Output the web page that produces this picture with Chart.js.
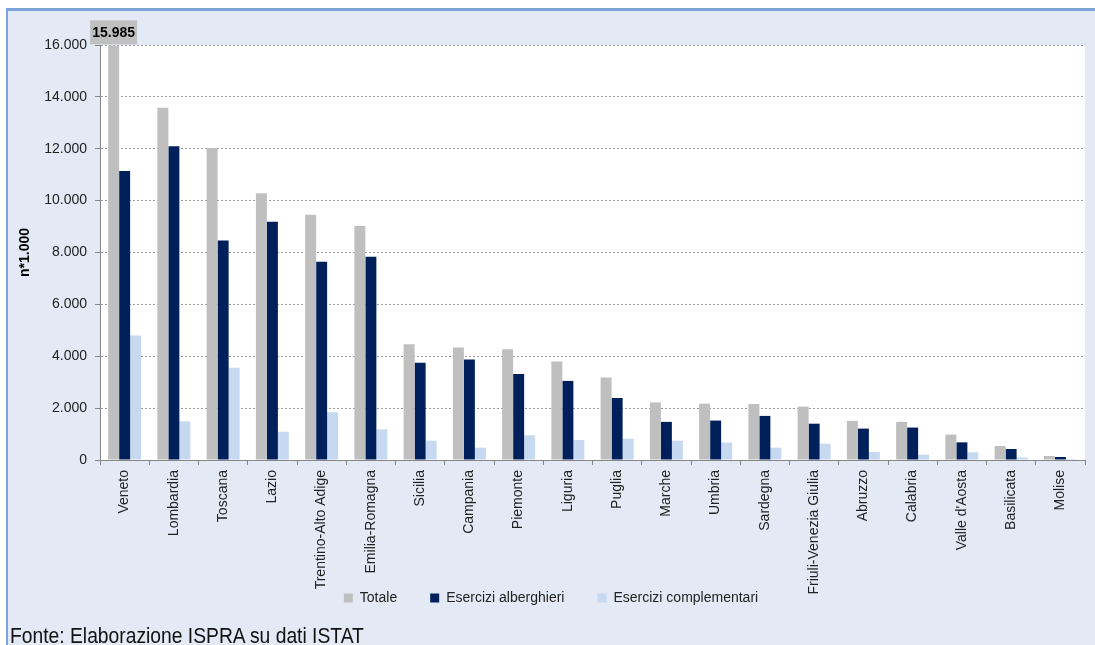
<!DOCTYPE html>
<html>
<head>
<meta charset="utf-8">
<script src="https://cdn.jsdelivr.net/npm/chart.js@4/dist/chart.umd.min.js"></script>
<style>
  html, body { margin: 0; padding: 0; background: #fff; }
  #wrap { position: relative; width: 1095px; height: 645px; overflow: hidden; }
  #frame {
    position: absolute; left: 6px; top: 8px; width: 1100px; height: 650px;
    background: #e3eaf5; border-left: 2px solid #7ba3d9; border-top: 3px solid #7ba3d9;
  }
  #c { position: absolute; left: 0; top: 0; }
  #fonte {
    position: absolute; left: 10px; top: 623px; white-space: nowrap;
    font-family: "Liberation Sans", Arial, sans-serif; font-size: 22px; color: #111;
    transform: scaleX(0.876); transform-origin: left top;
  }
</style>
</head>
<body>
<div id="wrap">
  <div id="frame"></div>
  <canvas id="c" width="1095" height="645"></canvas>
  <div id="fonte">Fonte: Elaborazione ISPRA su dati ISTAT</div>
</div>
<script>
const regioni = ['Veneto', 'Lombardia', 'Toscana', 'Lazio', 'Trentino-Alto Adige', 'Emilia-Romagna',
  'Sicilia', 'Campania', 'Piemonte', 'Liguria', 'Puglia', 'Marche', 'Umbria', 'Sardegna',
  'Friuli-Venezia Giulia', 'Abruzzo', 'Calabria', "Valle d'Aosta", 'Basilicata', 'Molise'];

// migliaia di posti letto
const totale = [15985, 13580, 12030, 10280, 9460, 9020, 4460, 4335, 4270, 3800,
  3180, 2220, 2170, 2160, 2060, 1510, 1470, 980, 540, 155];
const alberghieri = [11140, 12100, 8460, 9190, 7640, 7840, 3745, 3870, 3320, 3050,
  2390, 1470, 1520, 1700, 1400, 1210, 1250, 680, 425, 115];
const complementari = [4800, 1490, 3560, 1090, 1840, 1180, 745, 475, 950, 770,
  820, 745, 670, 475, 630, 310, 205, 295, 100, 40];

const yTicks = [0, 2000, 4000, 6000, 8000, 10000, 12000, 14000, 16000];

const FONT = 'Liberation Sans, Arial, sans-serif';

function fmt(v) {
  return String(v).replace(/\B(?=(\d{3})+(?!\d))/g, '.');
}

// white plot background
const plotBg = {
  id: 'plotBg',
  beforeDraw(chart) {
    const a = chart.chartArea;
    chart.ctx.save();
    chart.ctx.fillStyle = '#ffffff';
    chart.ctx.fillRect(a.left, a.top, a.right - a.left, a.bottom - a.top);
    chart.ctx.restore();
  }
};

// the x axis box is kept short so the legend sits close under it,
// but the long region names still need room below it, so the label
// clip area is widened after layout
const longLabels = {
  id: 'longLabels',
  afterLayout(chart) {
    const x = chart.scales.x;
    x.bottom = x.top + 140;
  }
};

// value box over the first bar
const maxLabel = {
  id: 'maxLabel',
  afterDatasetsDraw(chart) {
    const bar = chart.getDatasetMeta(0).data[0];
    const ctx = chart.ctx;
    const w = 47, h = 24;
    ctx.save();
    ctx.fillStyle = '#c0c0c0';
    ctx.fillRect(bar.x - w / 2, bar.y - h - 1, w, h);
    ctx.fillStyle = '#000';
    ctx.font = 'bold 14px ' + FONT;
    ctx.textAlign = 'center';
    ctx.textBaseline = 'middle';
    ctx.fillText(fmt(totale[0]), bar.x, bar.y - h / 2);
    ctx.restore();
  }
};

new Chart(document.getElementById('c'), {
  type: 'bar',
  data: {
    labels: regioni,
    datasets: [
      { label: 'Totale', data: totale, backgroundColor: '#bfbfbf' },
      { label: 'Esercizi alberghieri', data: alberghieri, backgroundColor: '#00205c' },
      { label: 'Esercizi complementari', data: complementari, backgroundColor: '#c6d9f0' }
    ]
  },
  options: {
    responsive: false,
    animation: false,
    datasets: { bar: { categoryPercentage: 0.67, barPercentage: 1.0 } },
    layout: { padding: { left: 17, right: 10, top: 45, bottom: 30 } },
    plugins: {
      legend: {
        position: 'bottom',
        labels: { boxWidth: 9, boxHeight: 9, padding: 33, color: '#222', font: { size: 14, family: FONT } }
      },
      tooltip: { enabled: false }
    },
    scales: {
      x: {
        grid: { display: true, drawOnChartArea: false, offset: true, tickLength: 5, color: '#868686' },
        border: { color: '#868686' },
        ticks: { minRotation: 90, maxRotation: 90, autoSkip: false, padding: 5, color: '#222', font: { size: 14, family: FONT } },
        afterFit(scale) { scale.height = 98; }
      },
      y: {
        min: 0,
        max: 16000,
        afterBuildTicks(scale) { scale.ticks = yTicks.map(v => ({ value: v })); },
        ticks: { padding: 8, color: '#222', font: { size: 14, family: FONT }, callback: v => fmt(v) },
        grid: { color: '#9a9a9a', tickLength: 5, tickColor: '#868686', tickBorderDash: [] },
        border: { color: '#868686', dash: [2, 2] },
        title: { display: true, text: 'n*1.000', color: '#000', font: { size: 14, weight: 'bold', family: FONT }, padding: { top: 0, bottom: 0 } },
        afterFit(scale) { scale.width = 83; }
      }
    }
  },
  plugins: [plotBg, longLabels, maxLabel]
});
</script>
</body>
</html>
